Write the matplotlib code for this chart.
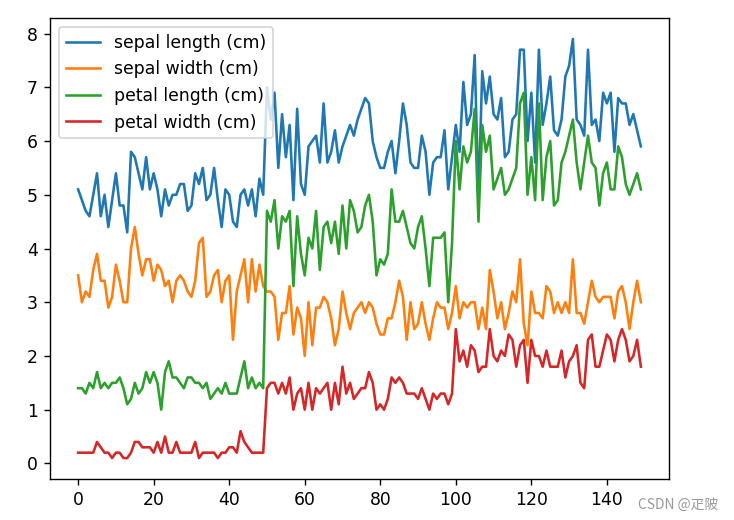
import matplotlib.pyplot as plt
import numpy as np

# iris measurements, 150 samples in dataset order
sepal_length = [5.1, 4.9, 4.7, 4.6, 5.0, 5.4, 4.6, 5.0, 4.4, 4.9,
                5.4, 4.8, 4.8, 4.3, 5.8, 5.7, 5.4, 5.1, 5.7, 5.1,
                5.4, 5.1, 4.6, 5.1, 4.8, 5.0, 5.0, 5.2, 5.2, 4.7,
                4.8, 5.4, 5.2, 5.5, 4.9, 5.0, 5.5, 4.9, 4.4, 5.1,
                5.0, 4.5, 4.4, 5.0, 5.1, 4.8, 5.1, 4.6, 5.3, 5.0,
                7.0, 6.4, 6.9, 5.5, 6.5, 5.7, 6.3, 4.9, 6.6, 5.2,
                5.0, 5.9, 6.0, 6.1, 5.6, 6.7, 5.6, 5.8, 6.2, 5.6,
                5.9, 6.1, 6.3, 6.1, 6.4, 6.6, 6.8, 6.7, 6.0, 5.7,
                5.5, 5.5, 5.8, 6.0, 5.4, 6.0, 6.7, 6.3, 5.6, 5.5,
                5.5, 6.1, 5.8, 5.0, 5.6, 5.7, 5.7, 6.2, 5.1, 5.7,
                6.3, 5.8, 7.1, 6.3, 6.5, 7.6, 4.9, 7.3, 6.7, 7.2,
                6.5, 6.4, 6.8, 5.7, 5.8, 6.4, 6.5, 7.7, 7.7, 6.0,
                6.9, 5.6, 7.7, 6.3, 6.7, 7.2, 6.2, 6.1, 6.4, 7.2,
                7.4, 7.9, 6.4, 6.3, 6.1, 7.7, 6.3, 6.4, 6.0, 6.9,
                6.7, 6.9, 5.8, 6.8, 6.7, 6.7, 6.3, 6.5, 6.2, 5.9]
sepal_width = [3.5, 3.0, 3.2, 3.1, 3.6, 3.9, 3.4, 3.4, 2.9, 3.1,
               3.7, 3.4, 3.0, 3.0, 4.0, 4.4, 3.9, 3.5, 3.8, 3.8,
               3.4, 3.7, 3.6, 3.3, 3.4, 3.0, 3.4, 3.5, 3.4, 3.2,
               3.1, 3.4, 4.1, 4.2, 3.1, 3.2, 3.5, 3.6, 3.0, 3.4,
               3.5, 2.3, 3.2, 3.5, 3.8, 3.0, 3.8, 3.2, 3.7, 3.3,
               3.2, 3.2, 3.1, 2.3, 2.8, 2.8, 3.3, 2.4, 2.9, 2.7,
               2.0, 3.0, 2.2, 2.9, 2.9, 3.1, 3.0, 2.7, 2.2, 2.5,
               3.2, 2.8, 2.5, 2.8, 2.9, 3.0, 2.8, 3.0, 2.9, 2.6,
               2.4, 2.4, 2.7, 2.7, 3.0, 3.4, 3.1, 2.3, 3.0, 2.5,
               2.6, 3.0, 2.6, 2.3, 2.7, 3.0, 2.9, 2.9, 2.5, 2.8,
               3.3, 2.7, 3.0, 2.9, 3.0, 3.0, 2.5, 2.9, 2.5, 3.6,
               3.2, 2.7, 3.0, 2.5, 2.8, 3.2, 3.0, 3.8, 2.6, 2.2,
               3.2, 2.8, 2.8, 2.7, 3.3, 3.2, 2.8, 3.0, 2.8, 3.0,
               2.8, 3.8, 2.8, 2.8, 2.6, 3.0, 3.4, 3.1, 3.0, 3.1,
               3.1, 3.1, 2.7, 3.2, 3.3, 3.0, 2.5, 3.0, 3.4, 3.0]
petal_length = [1.4, 1.4, 1.3, 1.5, 1.4, 1.7, 1.4, 1.5, 1.4, 1.5,
                1.5, 1.6, 1.4, 1.1, 1.2, 1.5, 1.3, 1.4, 1.7, 1.5,
                1.7, 1.5, 1.0, 1.7, 1.9, 1.6, 1.6, 1.5, 1.4, 1.6,
                1.6, 1.5, 1.5, 1.4, 1.5, 1.2, 1.3, 1.4, 1.3, 1.5,
                1.3, 1.3, 1.3, 1.6, 1.9, 1.4, 1.6, 1.4, 1.5, 1.4,
                4.7, 4.5, 4.9, 4.0, 4.6, 4.5, 4.7, 3.3, 4.6, 3.9,
                3.5, 4.2, 4.0, 4.7, 3.6, 4.4, 4.5, 4.1, 4.5, 3.9,
                4.8, 4.0, 4.9, 4.7, 4.3, 4.4, 4.8, 5.0, 4.5, 3.5,
                3.8, 3.7, 3.9, 5.1, 4.5, 4.5, 4.7, 4.4, 4.1, 4.0,
                4.4, 4.6, 4.0, 3.3, 4.2, 4.2, 4.2, 4.3, 3.0, 4.1,
                6.0, 5.1, 5.9, 5.6, 5.8, 6.6, 4.5, 6.3, 5.8, 6.1,
                5.1, 5.3, 5.5, 5.0, 5.1, 5.3, 5.5, 6.7, 6.9, 5.0,
                5.7, 4.9, 6.7, 4.9, 5.7, 6.0, 4.8, 4.9, 5.6, 5.8,
                6.1, 6.4, 5.6, 5.1, 5.6, 6.1, 5.6, 5.5, 4.8, 5.4,
                5.6, 5.1, 5.1, 5.9, 5.7, 5.2, 5.0, 5.2, 5.4, 5.1]
petal_width = [0.2, 0.2, 0.2, 0.2, 0.2, 0.4, 0.3, 0.2, 0.2, 0.1,
               0.2, 0.2, 0.1, 0.1, 0.2, 0.4, 0.4, 0.3, 0.3, 0.3,
               0.2, 0.4, 0.2, 0.5, 0.2, 0.2, 0.4, 0.2, 0.2, 0.2,
               0.2, 0.4, 0.1, 0.2, 0.2, 0.2, 0.2, 0.1, 0.2, 0.2,
               0.3, 0.3, 0.2, 0.6, 0.4, 0.3, 0.2, 0.2, 0.2, 0.2,
               1.4, 1.5, 1.5, 1.3, 1.5, 1.3, 1.6, 1.0, 1.3, 1.4,
               1.0, 1.5, 1.0, 1.4, 1.3, 1.4, 1.5, 1.0, 1.5, 1.1,
               1.8, 1.3, 1.5, 1.2, 1.3, 1.4, 1.4, 1.7, 1.5, 1.0,
               1.1, 1.0, 1.2, 1.6, 1.5, 1.6, 1.5, 1.3, 1.3, 1.3,
               1.2, 1.4, 1.2, 1.0, 1.3, 1.2, 1.3, 1.3, 1.1, 1.3,
               2.5, 1.9, 2.1, 1.8, 2.2, 2.1, 1.7, 1.8, 1.8, 2.5,
               2.0, 1.9, 2.1, 2.0, 2.4, 2.3, 1.8, 2.2, 2.3, 1.5,
               2.3, 2.0, 2.0, 1.8, 2.1, 1.8, 1.8, 1.8, 2.1, 1.6,
               1.9, 2.0, 2.2, 1.5, 1.4, 2.3, 2.4, 1.8, 1.8, 2.1,
               2.4, 2.3, 1.9, 2.3, 2.5, 2.3, 1.9, 2.0, 2.3, 1.8]

series = {
    'sepal length (cm)': sepal_length,
    'sepal width (cm)': sepal_width,
    'petal length (cm)': petal_length,
    'petal width (cm)': petal_width,
}

DPI = 124.5
fig = plt.figure(figsize=(734 / DPI, 520 / DPI), dpi=DPI)
ax = fig.add_axes([50 / 734, 41 / 520, 619 / 734, 461 / 520])

idx = np.arange(len(sepal_length))
for name, vals in series.items():
    ax.plot(idx, vals, label=name)
ax.legend(loc='upper left')

# watermark from the screenshot
fig.text(718 / 734, 1 - 505 / 520, 'CSDN @疋陂', ha='right', va='center',
         fontsize=8, color='#999999', family=['Noto Sans CJK SC', 'DejaVu Sans'])

fig.savefig('out.png', dpi=DPI)
